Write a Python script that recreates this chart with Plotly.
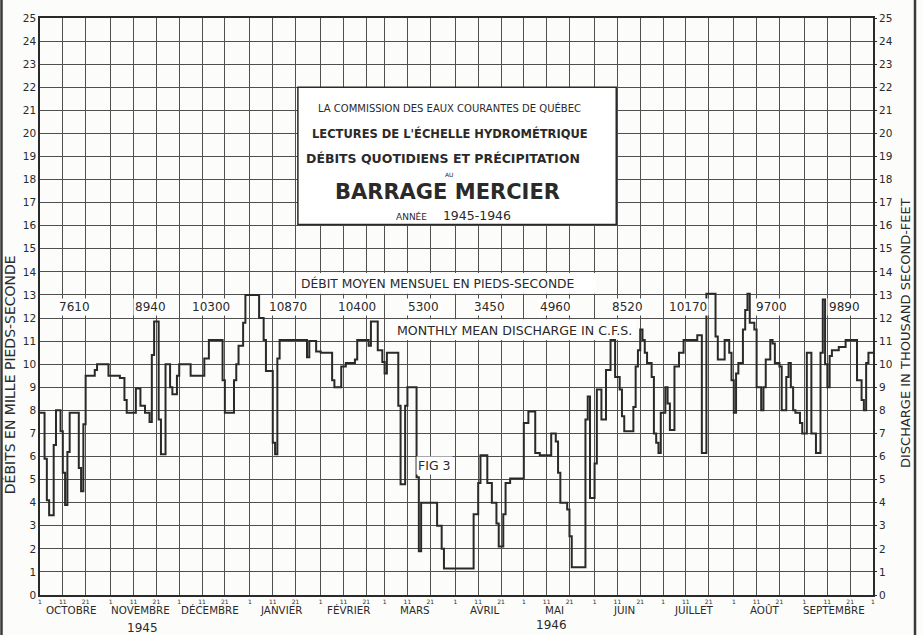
import plotly.graph_objects as go

# Calendar of the water year 1945-1946 (day 0 = 1 October 1945)
month_names = ["OCTOBRE", "NOVEMBRE", "DÉCEMBRE", "JANVIER", "FÉVRIER", "MARS",
               "AVRIL", "MAI", "JUIN", "JUILLET", "AOÛT", "SEPTEMBRE"]
month_days = [31, 30, 31, 31, 28, 31, 30, 31, 30, 31, 31, 30]
day_ticks = ["1", "11", "21"]
year_labels = ["1945", "1946"]

# Monthly mean discharge, cubic feet per second
monthly_mean_cfs = [7610, 8940, 10300, 10870, 10400, 5300,
                    3450, 4960, 8520, 10170, 9700, 9890]

# Daily discharge (thousand second-feet) as steps: day on which a level starts
step_day = [0, 2, 3, 4, 6, 7, 9, 10, 11, 12, 13, 17, 18, 19, 20, 24, 25, 30,
            35, 37, 38, 42, 44, 46, 48, 49, 50, 52, 53, 55, 57, 58, 60,
            61, 66, 72, 74, 80, 81, 85, 86, 87, 89, 90,
            96, 98, 99, 102, 103, 104, 105, 117, 118, 121,
            123, 128, 129, 132, 134, 138, 139, 144, 145, 148, 150, 151,
            152, 157, 158, 160, 161, 165, 166, 167, 174, 176, 177,
            190, 192, 193, 196, 198, 200, 201, 203, 204, 206,
            212, 214, 217, 219, 224, 226, 227, 228, 231, 232, 233, 239, 240, 241,
            243, 244, 246, 248, 250, 252, 254, 255, 256, 260, 261, 262, 263, 264,
            265, 266, 268, 269, 270, 271, 272, 274, 275, 276, 278, 280, 282, 288,
            290, 292, 296, 297, 300, 302, 303, 304, 305, 306, 308, 309, 310, 311,
            313, 314, 316, 317, 318, 320, 321, 322, 324, 325, 327, 328, 329, 330,
            331, 333, 334, 336, 338, 340, 342, 343, 344, 345, 346, 347, 350, 353,
            358, 360, 361, 362, 363]
step_flow = [7.9, 5.9, 4.1, 3.45, 6.5, 8.0, 7.1, 5.3, 3.9, 6.2, 7.9, 5.5, 4.5, 7.4, 9.5, 9.75, 10.0, 9.5,
             9.4, 8.45, 7.9, 8.95, 8.2, 7.9, 7.5, 10.4, 11.85, 7.6, 6.1, 10.0, 9.0, 8.7, 9.5,
             10.0, 9.5, 10.25, 11.05, 9.3, 7.9, 9.3, 10.0, 10.8, 11.8, 13.0,
             12.0, 11.05, 9.7, 6.6, 6.1, 10.25, 11.05, 10.3, 11.0, 10.55,
             10.5, 9.3, 9.0, 9.9, 10.05, 10.2, 11.05, 10.8, 11.85, 10.6, 10.1, 9.6,
             10.5, 8.2, 4.8, 8.2, 9.0, 5.1, 1.9, 4.0, 3.0, 2.0, 1.15,
             3.5, 4.85, 6.05, 4.85, 4.0, 3.1, 2.1, 3.5, 4.85, 5.05,
             7.45, 7.95, 6.15, 6.05, 7.0, 6.65, 5.3, 4.0, 3.7, 2.55, 1.2, 7.6, 8.6, 4.2,
             5.7, 8.9, 7.6, 9.75, 11.05, 9.45, 8.9, 7.75, 7.1, 8.15, 9.9, 10.6, 11.5, 11.05,
             10.5, 10.05, 9.45, 7.0, 6.6, 6.15, 7.9, 9.0, 8.3, 7.15, 9.9, 10.5, 11.05, 11.25,
             6.15, 13.05, 11.2, 10.2, 11.05, 10.5, 9.3, 7.9, 9.6, 10.05, 11.5, 12.35, 13.05, 11.8,
             11.5, 9.0, 8.0, 9.0, 10.2, 11.05, 10.9, 10.05, 9.9, 8.0, 9.45, 10.05, 9.0, 8.0,
             7.9, 7.45, 7.0, 10.5, 7.0, 6.15, 10.5, 12.8, 10.0, 9.0, 10.35, 10.6, 10.75, 11.05,
             9.3, 8.45, 8.0, 10.05, 10.5]

INK = "#2a2a2a"
GRID = "#505050"
FONT = "DejaVu Sans"

# small horizontal nudges (days) for the monthly-mean labels
mean_label_nudge = [-0.5, 2.5, -1.5, 1, 2, 1.5, 0, -1.5, -0.5, -4.5, 1, 2.5]

month_start = [sum(month_days[:i]) for i in range(len(month_days))]
year_len = sum(month_days)
month_mid = [s + n / 2 for s, n in zip(month_start, month_days)]

tick_vals = [s + k for s in month_start for k in (0, 10, 20)] + [year_len]
tick_text = day_ticks * len(month_start) + [day_ticks[0]]

fig = go.Figure()

fig.add_trace(go.Scatter(
    x=step_day + [year_len], y=step_flow + [step_flow[-1]],
    mode="lines", line=dict(color=INK, width=2, shape="hv"),
    hoverinfo="skip", showlegend=False))

# companion trace so the right-hand scale is drawn
fig.add_trace(go.Scatter(x=[0], y=[0], yaxis="y2", mode="markers",
                         marker=dict(opacity=0), hoverinfo="skip", showlegend=False))

shapes = []
# title panel
shapes.append(dict(type="rect", xref="x", yref="y", x0=113, x1=252.5, y0=16.05, y1=22.0,
                   fillcolor="white", line=dict(color=INK, width=1.5), layer="between"))
# monthly-mean heading strip
shapes.append(dict(type="rect", xref="x", yref="y", x0=114.5, x1=243.5, y0=13.05, y1=13.95,
                   fillcolor="white", line=dict(width=0), layer="between"))
# english heading strip
shapes.append(dict(type="rect", xref="x", yref="y", x0=152.5, x1=261, y0=11.05, y1=11.95,
                   fillcolor="white", line=dict(width=0), layer="between"))
# sheet border
for px in (1.5 / 833 - 40 / 833, (915 - 40) / 833):
    shapes.append(dict(type="line", xref="paper", yref="paper", x0=px, x1=px,
                       y0=-0.07, y1=1.035, line=dict(color="#3a3a3a", width=2.5)))

ann = []
def note(text, x, y, size, xref="x", yref="y", bold=False, angle=0, bg=None):
    ann.append(dict(text=f"<b>{text}</b>" if bold else text, x=x, y=y, xref=xref, yref=yref,
                    showarrow=False, textangle=angle,
                    font=dict(family=FONT, size=size, color=INK),
                    bgcolor=bg, borderpad=1, xanchor="center", yanchor="middle"))

# title panel text
note("LA COMMISSION DES EAUX COURANTES DE QUÉBEC", 179.5, 21.1, 10)
note("LECTURES DE L'ÉCHELLE HYDROMÉTRIQUE", 179.5, 20.0, 11.5, bold=True)
note("DÉBITS QUOTIDIENS ET PRÉCIPITATION", 176.5, 18.9, 12.5, bold=True)
note("AU", 179.5, 18.2, 6)
note("BARRAGE MERCIER", 178.5, 17.45, 21, bold=True)
note("<span style='font-size:9px'>ANNÉE</span>&nbsp;&nbsp;&nbsp;&nbsp;1945-1946", 181, 16.45, 12.5)

# monthly mean discharge
note("DÉBIT MOYEN MENSUEL EN PIEDS-SECONDE", 174, 13.5, 12.3)
note("MONTHLY MEAN DISCHARGE IN C.F.S.", 208, 11.47, 12.6)
for mid, nudge, q in zip(month_mid, mean_label_nudge, monthly_mean_cfs):
    note(str(q), mid + nudge, 12.5, 12, bg="white")

note("FIG 3", 173, 5.63, 12.5, bg="white")

# month and year labels under the time axis
for mid, name in zip(month_mid, month_names):
    note(name, mid - 2, -0.026, 10.3, yref="paper")
note(year_labels[0], 45, -0.057, 12, yref="paper")
note(year_labels[1], 224, -0.052, 12, yref="paper")

# axis titles
note("DÉBITS EN MILLE PIEDS-SECONDE", -0.036, 0.381, 14, xref="paper", yref="paper", angle=-90)
note("DISCHARGE IN THOUSAND SECOND-FEET", 1.0384, 0.454, 13, xref="paper", yref="paper", angle=-90)

value_axis = dict(range=[0, 25], tick0=0, dtick=1, zeroline=False,
                  tickfont=dict(family=FONT, size=10.5, color=INK))

fig.update_layout(
    width=923, height=635, autosize=False,
    margin=dict(l=40, r=50, t=18, b=40),
    paper_bgcolor="#fcfcfa", plot_bgcolor="#fcfcfa",
    showlegend=False,
    xaxis=dict(range=[0, year_len], tickmode="array", tickvals=tick_vals, ticktext=tick_text,
               showgrid=True, gridcolor=GRID, gridwidth=1, zeroline=False,
               showline=True, linecolor=INK, linewidth=1.5, mirror=True,
               tickfont=dict(family=FONT, size=6, color=INK), ticks=""),
    yaxis=dict(**value_axis, showgrid=True, gridcolor=GRID, gridwidth=1,
               showline=True, linecolor=INK, linewidth=1.5, mirror=True, ticks=""),
    yaxis2=dict(**value_axis, overlaying="y", side="right", showgrid=False,
                ticks="outside", ticklen=3, tickcolor=INK, showline=False),
    shapes=shapes, annotations=ann,
)

fig.write_html("out.html")
